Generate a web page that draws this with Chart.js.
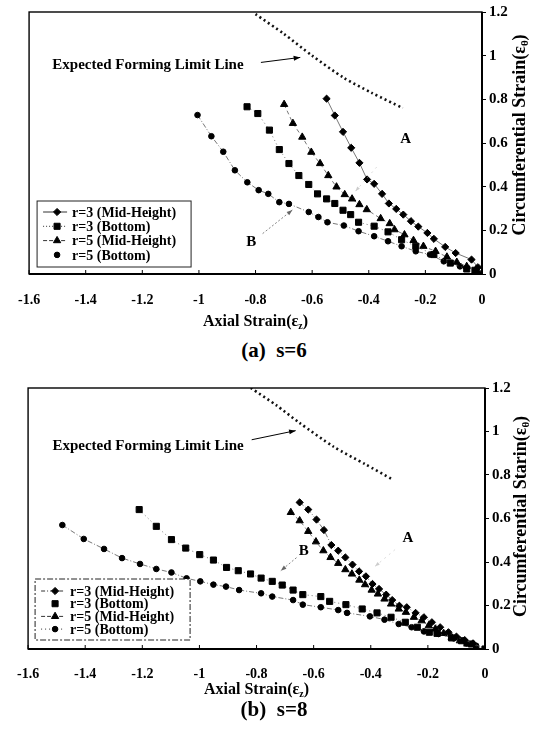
<!DOCTYPE html>
<html><head><meta charset="utf-8">
<script src="https://cdn.jsdelivr.net/npm/chart.js@4"></script>
<style>
html,body{margin:0;padding:0;background:#fff;}
body{width:540px;height:738px;position:relative;overflow:hidden;font-family:'Liberation Serif','Times New Roman',serif;}
.wrap{position:absolute;left:0;width:540px;}
.cap{position:absolute;left:4px;width:540px;text-align:center;font-weight:bold;font-size:21px;line-height:24px;color:#000;}
</style></head><body>
<div class="wrap" style="top:0;height:336px"><canvas id="c1"></canvas></div>
<div class="cap" style="top:338px">(a)&nbsp; s=6</div>
<div class="wrap" style="top:369px;height:334px"><canvas id="c2"></canvas></div>
<div class="cap" style="top:697px">(b)&nbsp; s=8</div>
<script>
// ---- tick labels ----
const xTickValues = [-1.6,-1.4,-1.2,-1.0,-0.8,-0.6,-0.4,-0.2,0];
const xTickLabels = ['-1.6','-1.4','-1.2','-1','-0.8','-0.6','-0.4','-0.2','0'];
const yTickValues = [0,0.2,0.4,0.6,0.8,1.0,1.2];
const yTickLabels = ['0','0.2','0.4','0.6','0.8','1','1.2'];
const seriesNames = ['r=3 (Mid-Height)','r=3 (Bottom)','r=5 (Mid-Height)','r=5 (Bottom)'];

// ---- (a) s=6 ----
const a_r3Mid_x = [-0.549,-0.520,-0.491,-0.462,-0.433,-0.406,-0.381,-0.353,-0.329,-0.303,-0.278,-0.251,-0.225,-0.193,-0.170,-0.130,-0.093,-0.037,-0.014,0];
const a_r3Mid_y = [0.803,0.726,0.651,0.578,0.509,0.433,0.413,0.367,0.323,0.298,0.272,0.242,0.217,0.188,0.161,0.124,0.096,0.066,0.031,0];
const a_r3Bot_x = [-0.830,-0.792,-0.751,-0.716,-0.682,-0.647,-0.612,-0.581,-0.549,-0.520,-0.491,-0.464,-0.436,-0.381,-0.332,-0.284,-0.234,-0.170,-0.112,-0.054,-0.025,0];
const a_r3Bot_y = [0.766,0.735,0.659,0.570,0.506,0.451,0.410,0.367,0.344,0.323,0.292,0.272,0.237,0.219,0.193,0.157,0.127,0.089,0.050,0.023,0.017,0];
const a_r5Mid_x = [-0.699,-0.668,-0.635,-0.603,-0.572,-0.543,-0.514,-0.485,-0.459,-0.433,-0.407,-0.358,-0.326,-0.309,-0.274,-0.242,-0.207,-0.164,-0.124,-0.089,-0.054,-0.020,0];
const a_r5Mid_y = [0.777,0.690,0.627,0.558,0.506,0.451,0.399,0.364,0.344,0.318,0.295,0.254,0.231,0.203,0.180,0.154,0.127,0.104,0.078,0.054,0.035,0.023,0];
const a_r5Bot_x = [-1.005,-0.956,-0.914,-0.873,-0.829,-0.789,-0.755,-0.716,-0.682,-0.612,-0.578,-0.546,-0.488,-0.436,-0.381,-0.332,-0.284,-0.234,-0.184,-0.135,-0.078,-0.020,0];
const a_r5Bot_y = [0.728,0.631,0.560,0.475,0.420,0.384,0.367,0.329,0.321,0.284,0.261,0.237,0.222,0.196,0.173,0.150,0.127,0.104,0.089,0.058,0.035,0.012,0];
const a_fll_x = [-0.80,-0.70,-0.60,-0.49,-0.39,-0.28];
const a_fll_y = [1.19,1.10,1.00,0.90,0.83,0.76];

// ---- (b) s=8 ----
const b_r3Mid_x = [-0.649,-0.619,-0.590,-0.564,-0.538,-0.514,-0.489,-0.464,-0.441,-0.417,-0.394,-0.371,-0.346,-0.325,-0.300,-0.274,-0.243,-0.214,-0.186,-0.157,-0.128,-0.100,-0.071,-0.042,0];
const b_r3Mid_y = [0.674,0.641,0.595,0.547,0.478,0.452,0.421,0.388,0.357,0.334,0.299,0.276,0.250,0.225,0.199,0.192,0.166,0.146,0.123,0.100,0.077,0.057,0.041,0.026,0];
const b_r3Bot_x = [-1.211,-1.151,-1.098,-1.048,-0.999,-0.951,-0.905,-0.864,-0.821,-0.784,-0.745,-0.710,-0.672,-0.638,-0.575,-0.544,-0.487,-0.430,-0.378,-0.329,-0.279,-0.237,-0.195,-0.168,-0.117,-0.082,-0.048,0];
const b_r3Bot_y = [0.641,0.564,0.503,0.464,0.434,0.409,0.375,0.360,0.345,0.326,0.311,0.294,0.271,0.250,0.241,0.219,0.204,0.184,0.166,0.146,0.123,0.100,0.077,0.072,0.051,0.038,0.023,0];
const b_r5Mid_x = [-0.680,-0.649,-0.619,-0.592,-0.566,-0.541,-0.514,-0.489,-0.466,-0.440,-0.420,-0.397,-0.375,-0.352,-0.329,-0.302,-0.277,-0.249,-0.222,-0.197,-0.174,-0.145,-0.117,-0.088,-0.062,-0.031,0];
const b_r5Mid_y = [0.628,0.590,0.541,0.493,0.452,0.421,0.394,0.365,0.345,0.317,0.296,0.271,0.253,0.230,0.207,0.184,0.169,0.146,0.130,0.107,0.092,0.072,0.054,0.038,0.023,0.008,0];
const b_r5Bot_x = [-1.480,-1.405,-1.334,-1.271,-1.208,-1.151,-1.098,-1.045,-0.997,-0.951,-0.907,-0.861,-0.784,-0.745,-0.672,-0.638,-0.575,-0.514,-0.483,-0.403,-0.352,-0.302,-0.257,-0.214,-0.163,-0.109,-0.065,-0.031,0];
const b_r5Bot_y = [0.570,0.506,0.460,0.418,0.391,0.368,0.352,0.325,0.311,0.296,0.287,0.271,0.256,0.241,0.225,0.204,0.192,0.179,0.166,0.150,0.135,0.115,0.100,0.081,0.069,0.049,0.026,0.015,0];
const b_fll_x = [-0.82,-0.73,-0.65,-0.53,-0.42,-0.325];
const b_fll_y = [1.20,1.12,1.04,0.93,0.85,0.78];

const FONT = "'Liberation Serif','Times New Roman',serif";

function pts(xs, ys){ return xs.map((x,i)=>({x:x, y:ys[i]})); }

function drawComposite(ctx, parts, size, cx, cy, rot){
  ctx.save();
  ctx.translate(cx, cy);
  if (rot) ctx.rotate(rot);
  const fMain = 'bold ' + size + 'px ' + FONT;
  const fSub = 'bold ' + Math.round(size*0.62) + 'px ' + FONT;
  ctx.font = fMain; const w1 = ctx.measureText(parts[0]).width; const w3 = ctx.measureText(parts[2]).width;
  ctx.font = fSub; const w2 = ctx.measureText(parts[1]).width;
  let x = -(w1+w2+w3)/2;
  ctx.fillStyle = '#000'; ctx.textBaseline = 'middle'; ctx.textAlign = 'left';
  ctx.font = fMain; ctx.fillText(parts[0], x, 0); x += w1;
  ctx.font = fSub; ctx.fillText(parts[1], x, size*0.28); x += w2;
  ctx.font = fMain; ctx.fillText(parts[2], x, 0);
  ctx.restore();
}

function arrow(ctx, x1, y1, x2, y2, st){
  ctx.save();
  ctx.strokeStyle = st.color; ctx.fillStyle = st.color; ctx.lineWidth = st.w;
  ctx.setLineDash(st.dash || []);
  ctx.beginPath(); ctx.moveTo(x1,y1); ctx.lineTo(x2,y2); ctx.stroke();
  ctx.setLineDash([]);
  const ang = Math.atan2(y2-y1, x2-x1), L = st.head || 6;
  ctx.beginPath(); ctx.moveTo(x2,y2);
  ctx.lineTo(x2 - L*Math.cos(ang-0.35), y2 - L*Math.sin(ang-0.35));
  ctx.lineTo(x2 - L*Math.cos(ang+0.35), y2 - L*Math.sin(ang+0.35));
  ctx.closePath(); ctx.fill();
  ctx.restore();
}

const decoPlugin = {
  id: 'deco',
  afterDraw(chart, args, o){
    const ctx = chart.ctx, a = chart.chartArea, xs = chart.scales.x, ys = chart.scales.y;
    ctx.save();
    ctx.strokeStyle = '#000'; ctx.lineWidth = 1.4; ctx.setLineDash([]);
    ctx.strokeRect(a.left, a.top, a.right-a.left, a.bottom-a.top);
    ctx.lineWidth = 2;
    ctx.beginPath(); ctx.moveTo(a.left, a.bottom); ctx.lineTo(a.right, a.bottom);
    ctx.moveTo(a.right, a.top); ctx.lineTo(a.right, a.bottom); ctx.stroke();
    ctx.lineWidth = 1;
    xTickValues.forEach(v => { const px = xs.getPixelForValue(v); ctx.beginPath(); ctx.moveTo(px, a.bottom); ctx.lineTo(px, a.bottom-4); ctx.stroke(); });
    drawComposite(ctx, o.xtitle.parts, o.xtitle.size, (a.left+a.right)/2, a.bottom + o.xtitle.dy, 0);
    drawComposite(ctx, o.ytitle.parts, o.ytitle.size, a.right + o.ytitle.dx, (a.top+a.bottom)/2 + o.ytitle.dy, -Math.PI/2);
    o.arrows.forEach(ar => {
      arrow(ctx, xs.getPixelForValue(ar.from[0]), ys.getPixelForValue(ar.from[1]), xs.getPixelForValue(ar.to[0]), ys.getPixelForValue(ar.to[1]), ar);
    });
    ctx.fillStyle = '#000'; ctx.textAlign = 'center'; ctx.textBaseline = 'middle';
    o.notes.forEach(n => {
      ctx.font = 'bold ' + n.size + 'px ' + FONT;
      ctx.fillText(n.text, xs.getPixelForValue(n.at[0]), ys.getPixelForValue(n.at[1]));
    });
    const lg = o.legend;
    const L = a.left + lg.dx, T = a.bottom - lg.dyBottom - lg.h;
    ctx.fillStyle = '#fff'; ctx.fillRect(L, T, lg.w, lg.h);
    ctx.strokeStyle = '#222'; ctx.lineWidth = 1; ctx.setLineDash(lg.dash);
    ctx.strokeRect(L, T, lg.w, lg.h);
    const items = chart.data.datasets.filter(d => d.inLegend);
    items.forEach((d, i) => {
      const cy = T + lg.first + i*lg.row;
      if (d.legendDash) {
        ctx.setLineDash(d.legendDash); ctx.strokeStyle = '#333'; ctx.lineWidth = 1;
        ctx.beginPath(); ctx.moveTo(L+6, cy); ctx.lineTo(L+30, cy); ctx.stroke();
      }
      ctx.setLineDash([]);
      ctx.fillStyle = '#000'; ctx.strokeStyle = '#000';
      Chart.helpers.drawPoint(ctx, {pointStyle: d.pointStyle, radius: d.pointRadius, borderWidth: 1, rotation: 0}, L+20, cy);
      ctx.fillStyle = '#000'; ctx.font = 'bold ' + lg.font + 'px ' + FONT;
      ctx.textAlign = 'left'; ctx.textBaseline = 'middle';
      ctx.fillText(d.label, L+35, cy+1);
    });
    ctx.restore();
  }
};

function build(id, cfg){
  const styles = [
    {ps:'rectRot', r:3.6},
    {ps:'rect', r:4.3},
    {ps:'triangle', r:4.2},
    {ps:'circle', r:2.8}
  ];
  const datasets = cfg.series.map((s, i) => ({
    label: seriesNames[i],
    data: pts(s[0], s[1]),
    showLine: true,
    borderColor: '#555',
    borderWidth: 0.8,
    borderDash: cfg.dashes[i],
    pointStyle: styles[i].ps,
    pointRadius: styles[i].r,
    pointBackgroundColor: '#000',
    pointBorderColor: '#000',
    pointBorderWidth: 1,
    inLegend: true,
    legendDash: cfg.legendDashes[i]
  }));
  datasets.push({
    label: 'Expected Forming Limit Line',
    data: pts(cfg.fll[0], cfg.fll[1]),
    showLine: true, borderColor: '#111', borderWidth: 2.6, borderDash: [2,3],
    pointRadius: 0, tension: 0.25, inLegend: false
  });
  return new Chart(document.getElementById(id), {
    type: 'scatter',
    data: {datasets: datasets},
    options: {
      responsive: true, maintainAspectRatio: false, animation: false, events: [],
      layout: {padding: {left: cfg.padL, top: cfg.padT, right: 0, bottom: 0}},
      plugins: {legend: {display: false}, tooltip: {enabled: false}, deco: cfg.deco},
      scales: {
        x: {
          type: 'linear', min: -1.6, max: 0,
          afterBuildTicks: s => { s.ticks = xTickValues.map(v => ({value: v})); },
          ticks: {callback: (v) => xTickLabels[xTickValues.findIndex(t => Math.abs(t - v) < 1e-6)],
                  font: {family: FONT, weight: 'bold', size: 14}, color: '#000', maxRotation: 0, autoSkip: false, padding: cfg.xPad},
          grid: {display: true, drawOnChartArea: false, drawTicks: false},
          border: {display: false},
          afterFit: s => { s.height = cfg.xH; }
        },
        y: {
          type: 'linear', position: 'right', min: 0, max: 1.2,
          afterBuildTicks: s => { s.ticks = yTickValues.map(v => ({value: v})); },
          ticks: {callback: (v) => yTickLabels[yTickValues.findIndex(t => Math.abs(t - v) < 1e-6)],
                  font: {family: FONT, weight: 'bold', size: 15}, color: '#000', padding: 3},
          grid: {display: true, drawOnChartArea: false, drawTicks: true, tickLength: 4, color: '#000'},
          border: {display: false},
          afterFit: s => { s.width = cfg.yW; }
        }
      }
    },
    plugins: [decoPlugin]
  });
}

build('c1', {
  series: [[a_r3Mid_x,a_r3Mid_y],[a_r3Bot_x,a_r3Bot_y],[a_r5Mid_x,a_r5Mid_y],[a_r5Bot_x,a_r5Bot_y]],
  fll: [a_fll_x, a_fll_y],
  dashes: [[], [1,3], [4,3], [5,2,1,2]],
  legendDashes: [[], [1,2], [4,2], null],
  padL: 18, padT: 12, xH: 62, yW: 58, xPad: 18,
  deco: {
    xtitle: {parts: ['Axial Strain(\u03B5', 'z', ')'], size: 16, dy: 48},
    ytitle: {parts: ['Circumferential Strain(\u03B5', '\u03B8', ')'], size: 18, dx: 38, dy: -8},
    notes: [
      {text: 'Expected Forming Limit Line', at: [-1.18, 0.957], size: 15},
      {text: 'A', at: [-0.27, 0.616], size: 15},
      {text: 'B', at: [-0.815, 0.145], size: 15}
    ],
    arrows: [
      {from: [-0.781, 0.969], to: [-0.642, 0.992], color: '#000', w: 1, dash: [], head: 7},
      {from: [-0.372, 0.49], to: [-0.447, 0.379], color: '#ccc', w: 0.7, dash: [2,4], head: 5},
      {from: [-0.775, 0.185], to: [-0.67, 0.293], color: '#666', w: 0.8, dash: [2,2], head: 6}
    ],
    legend: {dx: 8, dyBottom: 7, w: 154, h: 66, first: 11, row: 14.3, font: 14, dash: []}
  }
});

build('c2', {
  series: [[b_r3Mid_x,b_r3Mid_y],[b_r3Bot_x,b_r3Bot_y],[b_r5Mid_x,b_r5Mid_y],[b_r5Bot_x,b_r5Bot_y]],
  fll: [b_fll_x, b_fll_y],
  dashes: [[5,2,1,2], [1,3], [4,3], [5,2,1,2]],
  legendDashes: [[4,2,1,2], null, [4,2], [1,3]],
  padL: 18, padT: 19, xH: 54, yW: 55, xPad: 17,
  deco: {
    xtitle: {parts: ['Axial Strain(\u03B5', 'z', ')'], size: 16, dy: 41},
    ytitle: {parts: ['Circumferential Starin(\u03B5', '\u03B8', ')'], size: 18, dx: 36, dy: -2},
    notes: [
      {text: 'Expected Forming Limit Line', at: [-1.18, 0.931], size: 15},
      {text: 'A', at: [-0.27, 0.51], size: 15},
      {text: 'B', at: [-0.635, 0.449], size: 15}
    ],
    arrows: [
      {from: [-0.817, 0.962], to: [-0.663, 1.004], color: '#000', w: 1, dash: [], head: 7},
      {from: [-0.315, 0.457], to: [-0.385, 0.38], color: '#ccc', w: 0.7, dash: [2,4], head: 5},
      {from: [-0.66, 0.42], to: [-0.715, 0.36], color: '#666', w: 0.8, dash: [2,2], head: 6}
    ],
    legend: {dx: 7, dyBottom: 9, w: 155, h: 61, first: 12, row: 12.7, font: 14, dash: [6,2,2,2]}
  }
});
</script>
</body></html>
